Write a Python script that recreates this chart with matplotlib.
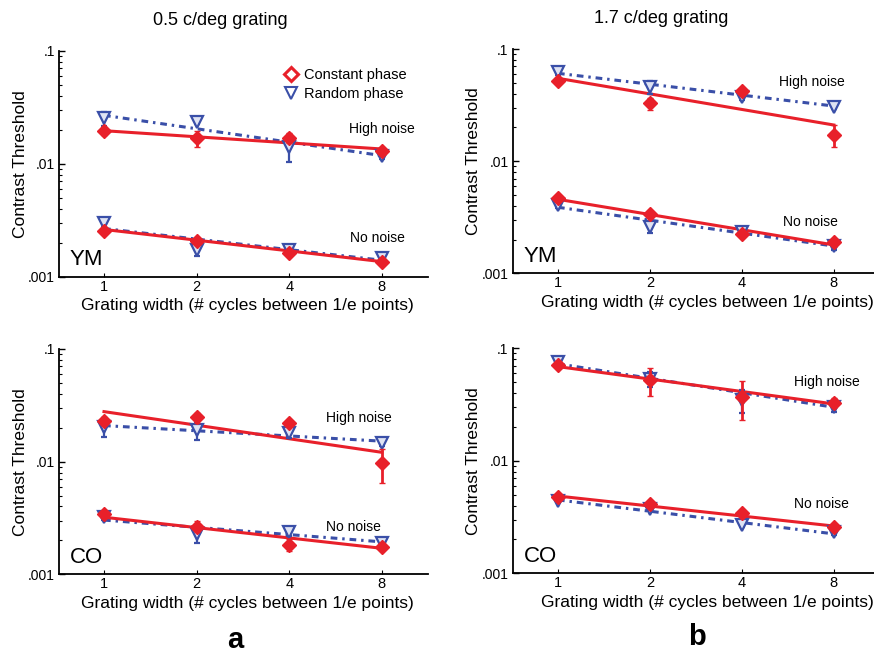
import numpy as np
import matplotlib
matplotlib.use("Agg")
import matplotlib.pyplot as plt
from matplotlib.ticker import LogLocator, FixedLocator, NullFormatter
from matplotlib.lines import Line2D

plt.rcParams['font.family'] = ['Liberation Sans', 'DejaVu Sans']

widths = [1, 2, 4, 8]
titles = ["0.5 c/deg grating", "1.7 c/deg grating"]
subjects = ["YM", "CO"]

# thresholds per panel: (subject, grating) -> series
# constant phase, high noise
const_high = {
    ("YM", 0): [0.0195, 0.0168, 0.0170, 0.0130],
    ("YM", 1): [0.0522, 0.0328, 0.0423, 0.0171],
    ("CO", 0): [0.0231, 0.0247, 0.0219, 0.00966],
    ("CO", 1): [0.0711, 0.0523, 0.0372, 0.0329],
}
const_high_err = {
    ("YM", 0): [0.0015, 0.0028, 0.0016, 0.0008],
    ("YM", 1): [0.0030, 0.0040, 0.0020, 0.0038],
    ("CO", 0): [0.0020, 0.0025, 0.0012, 0.0032],
    ("CO", 1): [0.0040, 0.0150, 0.0140, 0.0030],
}
rand_high = {
    ("YM", 0): [0.0252, 0.0235, 0.0141, 0.0118],
    ("YM", 1): [0.0620, 0.0461, 0.0376, 0.0306],
    ("CO", 0): [0.0205, 0.0191, 0.0178, 0.0146],
    ("CO", 1): [0.0752, 0.0530, 0.0347, 0.0299],
}
rand_high_err = {
    ("YM", 0): [0.0035, 0.0012, 0.0038, 0.0008],
    ("YM", 1): [0.0030, 0.0060, 0.0025, 0.0015],
    ("CO", 0): [0.0040, 0.0035, 0.0015, 0.0008],
    ("CO", 1): [0.0030, 0.0080, 0.0080, 0.0025],
}
const_none = {
    ("YM", 0): [0.00254, 0.00208, 0.00163, 0.00136],
    ("YM", 1): [0.00473, 0.00336, 0.00224, 0.00189],
    ("CO", 0): [0.00341, 0.00265, 0.00182, 0.00176],
    ("CO", 1): [0.00480, 0.00413, 0.00346, 0.00260],
}
const_none_err = {
    ("YM", 0): [0.00012, 0.00012, 0.00010, 0.00008],
    ("YM", 1): [0.00020, 0.00015, 0.00010, 0.00012],
    ("CO", 0): [0.00020, 0.00030, 0.00022, 0.00010],
    ("CO", 1): [0.00015, 0.00015, 0.00015, 0.00012],
}
rand_none = {
    ("YM", 0): [0.00296, 0.00172, 0.00171, 0.00147],
    ("YM", 1): [0.00406, 0.00261, 0.00232, 0.00175],
    ("CO", 0): [0.00325, 0.00228, 0.00239, 0.00188],
    ("CO", 1): [0.00443, 0.00371, 0.00269, 0.00234],
}
rand_none_err = {
    ("YM", 0): [0.00018, 0.00020, 0.00010, 0.00010],
    ("YM", 1): [0.00020, 0.00030, 0.00015, 0.00012],
    ("CO", 0): [0.00020, 0.00040, 0.00020, 0.00010],
    ("CO", 1): [0.00015, 0.00015, 0.00012, 0.00015],
}

# regression lines in log-log, values at width 1 and width 8
fit_const_high = {("YM", 0): [0.0196, 0.0135], ("YM", 1): [0.0548, 0.0210],
                  ("CO", 0): [0.0278, 0.0121], ("CO", 1): [0.0687, 0.0320]}
fit_rand_high = {("YM", 0): [0.0268, 0.0118], ("YM", 1): [0.0607, 0.0310],
                 ("CO", 0): [0.0209, 0.0152], ("CO", 1): [0.0728, 0.0299]}
fit_const_none = {("YM", 0): [0.00262, 0.00136], ("YM", 1): [0.00457, 0.00179],
                  ("CO", 0): [0.00321, 0.00170], ("CO", 1): [0.00486, 0.00263]}
fit_rand_none = {("YM", 0): [0.00267, 0.00140], ("YM", 1): [0.00388, 0.00175],
                 ("CO", 0): [0.00303, 0.00194], ("CO", 1): [0.00449, 0.00224]}

# where the "High noise" / "No noise" captions sit (x, y)
high_lbl = {("YM", 0): (8.0, 0.0203), ("YM", 1): (6.75, 0.0508),
            ("CO", 0): (6.74, 0.0243), ("CO", 1): (7.6, 0.0499)}
none_lbl = {("YM", 0): (7.76, 0.0022), ("YM", 1): (6.7, 0.00289),
            ("CO", 0): (6.49, 0.00262), ("CO", 1): (7.29, 0.0041)}

RED = "#e8202a"
BLUE = "#3a4fa8"
DASHDOT = (0, (2.2, 1.6, 0.8, 1.6))

fig = plt.figure(figsize=(8.74, 6.57), dpi=100)

# [left, bottom, width, height] in figure fractions
boxes = {
    ("YM", 0): [0.0675, 0.5788, 0.4222, 0.3440],
    ("YM", 1): [0.5866, 0.5840, 0.4200, 0.3414],
    ("CO", 0): [0.0675, 0.1259, 0.4222, 0.3429],
    ("CO", 1): [0.5866, 0.1274, 0.4200, 0.3425],
}
xlims = {0: (0.714, 11.3), 1: (0.711, 11.3)}


def draw(ax, key):
    x = np.array(widths, dtype=float)
    xf = np.array([1.0, 8.0])
    for fit, style, col, z in [(fit_rand_high, DASHDOT, BLUE, 2),
                               (fit_rand_none, DASHDOT, BLUE, 2),
                               (fit_const_high, '-', RED, 3),
                               (fit_const_none, '-', RED, 3)]:
        ax.plot(xf, fit[key], linestyle=style, color=col, lw=2.2, zorder=z)
    for vals, errs in [(rand_high, rand_high_err), (rand_none, rand_none_err)]:
        ax.errorbar(x, vals[key], yerr=errs[key], fmt='v', ms=8.5,
                    mfc='#dfe3f3', mec=BLUE, mew=1.6, ecolor=BLUE, elinewidth=1.6,
                    capsize=2.5, capthick=1.6, zorder=4)
    for vals, errs in [(const_high, const_high_err), (const_none, const_none_err)]:
        ax.errorbar(x, vals[key], yerr=errs[key], fmt='D', ms=7.5,
                    mfc=RED, mec=RED, mew=1, ecolor=RED, elinewidth=2,
                    capsize=2.5, capthick=2, zorder=5)

    ax.set_xscale('log', base=2)
    ax.set_yscale('log')
    ax.set_xlim(*xlims[key[1]])
    ax.set_ylim(0.001, 0.1)
    ax.xaxis.set_major_locator(FixedLocator(widths))
    ax.xaxis.set_minor_locator(FixedLocator([]))
    ax.set_xticklabels([str(w) for w in widths])
    ax.yaxis.set_major_locator(FixedLocator([0.001, 0.01, 0.1]))
    ax.set_yticklabels(['.001', '.01', '.1'])
    ax.yaxis.set_minor_locator(LogLocator(base=10, subs=np.arange(2, 10)))
    ax.yaxis.set_minor_formatter(NullFormatter())
    ax.tick_params(axis='y', which='major', direction='in', length=4, width=1,
                   labelsize=10, pad=3)
    ax.tick_params(axis='y', which='minor', direction='in', length=2.5, width=0.8)
    ax.tick_params(axis='x', which='major', direction='in', length=3, width=0.8,
                   labelsize=10.5, pad=2)
    for s in ['top', 'right']:
        ax.spines[s].set_visible(False)
    for s in ['left', 'bottom']:
        ax.spines[s].set_linewidth(1.3)

    ax.set_ylabel("Contrast Threshold", fontsize=12.5)
    ax.yaxis.set_label_coords(-0.085, 0.5)
    ax.set_xlabel("Grating width (# cycles between 1/e points)", fontsize=12.5)
    if key[1] == 1:
        ax.xaxis.set_label_coords(0.53, -0.128)
    else:
        ax.xaxis.set_label_coords(0.51, -0.128)
    ax.xaxis.label.set_va('center')

    hx, hy = high_lbl[key]
    ax.text(hx, hy, "High noise", fontsize=10, ha='center', va='center')
    nx, ny = none_lbl[key]
    ax.text(nx, ny, "No noise", fontsize=10, ha='center', va='center')
    ax.text(0.075, 0.075, key[0], transform=ax.transAxes, fontsize=16,
            ha='center', va='center')


axes = {}
for key, box in boxes.items():
    ax = fig.add_axes(box)
    axes[key] = ax
    draw(ax, key)

# legend only in the first panel
handles = [Line2D([], [], marker='D', ls='none', ms=7, mfc='white', mec=RED,
                  mew=2.2, label="Constant phase"),
           Line2D([], [], marker='v', ls='none', ms=9, mfc='white', mec=BLUE,
                  mew=1.5, label="Random phase")]
axes[("YM", 0)].legend(handles=handles, loc='upper left', frameon=False,
                       fontsize=10.5, bbox_to_anchor=(0.59, 0.95),
                       handletextpad=0.3, labelspacing=0.35, handlelength=1.2,
                       borderaxespad=0)

fig.text(0.2517, 0.969, titles[0], fontsize=13, ha='center', va='center')
fig.text(0.757, 0.972, titles[1], fontsize=13, ha='center', va='center')
fig.text(0.2689, 0.026, "a", fontsize=21, fontweight='bold', ha='center', va='center')
fig.text(0.7975, 0.030, "b", fontsize=21, fontweight='bold', ha='center', va='center')

fig.savefig("out.png", dpi=100)
